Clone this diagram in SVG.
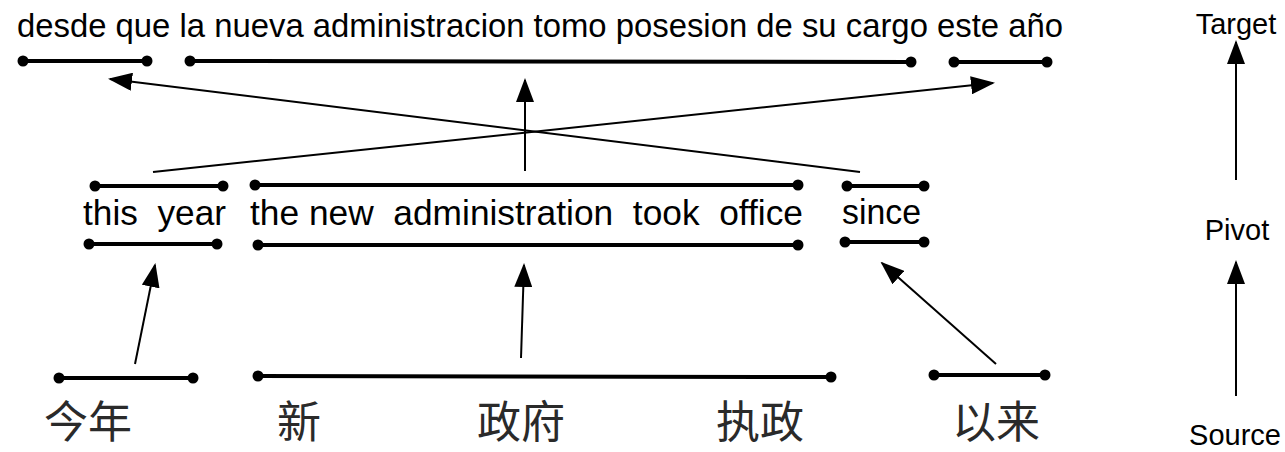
<svg xmlns="http://www.w3.org/2000/svg" width="1285" height="452" viewBox="0 0 1285 452">
<style>
text{font-family:"Liberation Sans",Arial,sans-serif;fill:#000}
.zh{font-family:"Noto Sans CJK SC",sans-serif;font-size:44px;fill:#2a2a2a}
.bar{stroke:#000;stroke-width:4;stroke-linecap:round}
.dot{fill:#000}
.arr{stroke:#000;stroke-width:2;fill:none;marker-end:url(#ah)}
</style>
<defs>
<marker id="ah" markerWidth="24" markerHeight="18" refX="22" refY="9" orient="auto" markerUnits="userSpaceOnUse"><path d="M0,0 L24,9 L0,18 z" fill="#000"/></marker>
</defs>
<rect width="1285" height="452" fill="#fff"/>
<g id="target">
<text x="17" y="37" font-size="33" textLength="1046" lengthAdjust="spacingAndGlyphs">desde que la nueva administracion tomo posesion de su cargo este año</text>
<g id="t-bar1"><line class="bar" x1="23" y1="61" x2="147" y2="61"/><circle class="dot" cx="23" cy="61" r="5.5"/><circle class="dot" cx="147" cy="61" r="5.5"/></g>
<g id="t-bar2"><line class="bar" x1="190" y1="61" x2="911" y2="62"/><circle class="dot" cx="190" cy="61" r="5.5"/><circle class="dot" cx="911" cy="62" r="5.5"/></g>
<g id="t-bar3"><line class="bar" x1="954" y1="62" x2="1047" y2="62"/><circle class="dot" cx="954" cy="62" r="5.5"/><circle class="dot" cx="1047" cy="62" r="5.5"/></g>
</g>
<g id="pivot">
<g id="p-thisyear">
<text x="83" y="225" font-size="35" textLength="143" lengthAdjust="spacingAndGlyphs" xml:space="preserve">this  year</text>
<line class="bar" x1="95" y1="186" x2="223" y2="186"/><circle class="dot" cx="95" cy="186" r="5.5"/><circle class="dot" cx="223" cy="186" r="5.5"/>
<line class="bar" x1="89" y1="244" x2="217" y2="244"/><circle class="dot" cx="89" cy="244" r="5.5"/><circle class="dot" cx="217" cy="244" r="5.5"/>
</g>
<g id="p-admin">
<text x="250" y="225" font-size="35" textLength="553" lengthAdjust="spacingAndGlyphs" xml:space="preserve">the new  administration  took  office</text>
<line class="bar" x1="255" y1="185" x2="798" y2="185"/><circle class="dot" cx="255" cy="185" r="5.5"/><circle class="dot" cx="798" cy="185" r="5.5"/>
<line class="bar" x1="258" y1="245" x2="798" y2="245"/><circle class="dot" cx="258" cy="245" r="5.5"/><circle class="dot" cx="798" cy="245" r="5.5"/>
</g>
<g id="p-since">
<text x="842" y="224" font-size="35" textLength="79" lengthAdjust="spacingAndGlyphs">since</text>
<line class="bar" x1="847" y1="186" x2="924" y2="186"/><circle class="dot" cx="847" cy="186" r="5.5"/><circle class="dot" cx="924" cy="186" r="5.5"/>
<line class="bar" x1="845" y1="242" x2="924" y2="242"/><circle class="dot" cx="845" cy="242" r="5.5"/><circle class="dot" cx="924" cy="242" r="5.5"/>
</g>
</g>
<g id="source">
<g id="s-jinnian"><line class="bar" x1="59" y1="378" x2="193" y2="378"/><circle class="dot" cx="59" cy="378" r="5.5"/><circle class="dot" cx="193" cy="378" r="5.5"/><text class="zh" x="88" y="438" text-anchor="middle">今年</text></g>
<g id="s-gov"><line class="bar" x1="258" y1="376" x2="831" y2="377"/><circle class="dot" cx="258" cy="376" r="5.5"/><circle class="dot" cx="831" cy="377" r="5.5"/>
<text class="zh" x="299" y="438" text-anchor="middle">新</text>
<text class="zh" x="521" y="438" text-anchor="middle">政府</text>
<text class="zh" x="760" y="438" text-anchor="middle">执政</text></g>
<g id="s-yilai"><line class="bar" x1="934" y1="375" x2="1045" y2="375"/><circle class="dot" cx="934" cy="375" r="5.5"/><circle class="dot" cx="1045" cy="375" r="5.5"/><text class="zh" x="996" y="438" text-anchor="middle">以来</text></g>
</g>
<g id="legend">
<text x="1236" y="34" font-size="29" text-anchor="middle">Target</text>
<text x="1237" y="240" font-size="29" text-anchor="middle">Pivot</text>
<text x="1235" y="445" font-size="29" text-anchor="middle">Source</text>
</g>
<g id="connectors">
<line class="arr" x1="860" y1="172" x2="110" y2="79"/>
<line class="arr" x1="153" y1="172" x2="993" y2="83"/>
<line class="arr" x1="525" y1="171" x2="525" y2="80"/>
<line class="arr" x1="135" y1="364" x2="155" y2="265"/>
<line class="arr" x1="521" y1="358" x2="524" y2="265"/>
<line class="arr" x1="996" y1="364" x2="882" y2="263"/>
<line class="arr" x1="1236" y1="180" x2="1236" y2="42"/>
<line class="arr" x1="1236" y1="396" x2="1236" y2="262"/>
</g>
</svg>
